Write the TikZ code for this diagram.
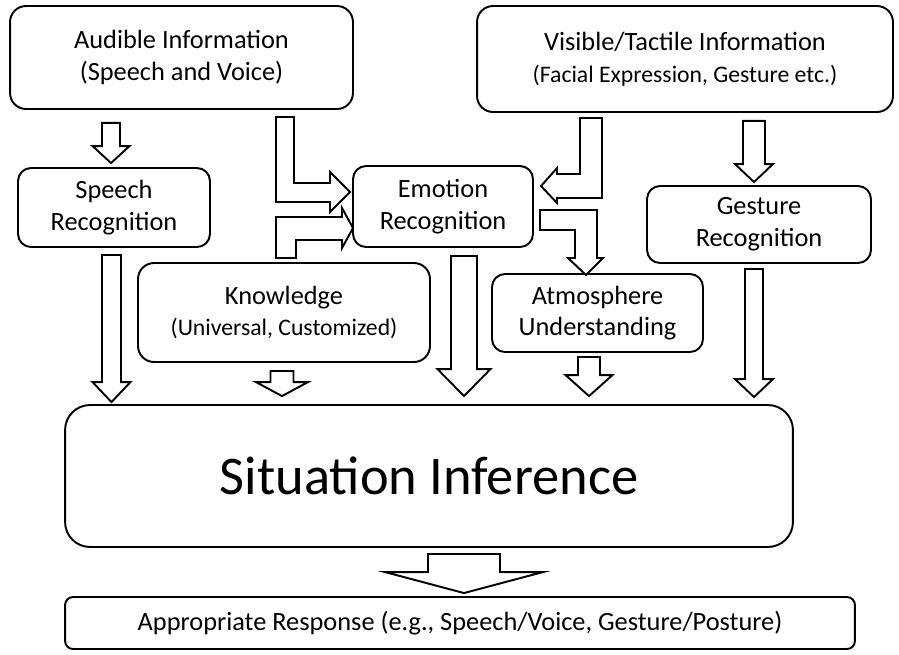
\documentclass[tikz,border=0pt]{standalone}
\usepackage{fontspec}
\setmainfont{Carlito}
\usetikzlibrary{calc}

% straight block arrow pointing down: from, to, x, shaft half, head half, head length, top gap, bottom gap
\newcommand{\blockdown}[8]{%
  \draw[blockarrow] let \p1=(#1.south -| #3,0), \p2=(#2.north -| #3,0) in
    (\x1-#4,\y1-#7) -- (\x1+#4,\y1-#7) -- (\x1+#4,\y2+#8+#6) -- (\x1+#5,\y2+#8+#6)
    -- (\x1,\y2+#8) -- (\x1-#5,\y2+#8+#6) -- (\x1-#4,\y2+#8+#6) -- cycle;
}

\begin{document}
\begin{tikzpicture}[x=0.02cm, y=-0.02cm,
  rbox/.style={draw, line width=1.1pt, rounded corners=0.26cm, align=center, inner sep=0pt, font=\fontsize{15}{18}\selectfont},
  blockarrow/.style={draw, line width=1.1pt, fill=white, line join=miter}
]
  \useasboundingbox (0,0) rectangle (899,654);

  % sources
  \node[rbox, minimum width=6.86cm, minimum height=2.06cm, rounded corners=0.32cm] (aud) at (181.5,57.5) {Audible Information\\(Speech and Voice)};
  \node[rbox, minimum width=8.32cm, minimum height=2.12cm, rounded corners=0.32cm] (vis) at (685,59) {Visible/Tactile Information\\{\fontsize{13.5}{16}\selectfont (Facial Expression, Gesture etc.)}};

  % recognition
  \node[rbox, minimum width=3.84cm, minimum height=1.58cm] (speech) at (114,207.5) {Speech\\Recognition};
  \node[rbox, minimum width=3.6cm, minimum height=1.62cm] (emo) at (443,206.5) {Emotion\\Recognition};
  \node[rbox, minimum width=4.48cm, minimum height=1.54cm] (gest) at (759,224.5) {Gesture\\Recognition};
  \node[rbox, minimum width=5.84cm, minimum height=1.98cm, rounded corners=0.32cm] (know) at (284,312.5) {Knowledge\\{\fontsize{13.5}{16}\selectfont (Universal, Customized)}};
  \node[rbox, minimum width=4.22cm, minimum height=1.56cm] (atm) at (597.5,313) {Atmosphere\\Understanding};

  % inference and output
  \node[rbox, minimum width=14.56cm, minimum height=2.84cm, rounded corners=0.5cm, font=\fontsize{31}{36}\selectfont] (sit) at (429,476) {Situation Inference};
  \node[rbox, minimum width=15.8cm, minimum height=1.04cm, rounded corners=0.16cm] (resp) at (460,623) {Appropriate Response (e.g., Speech/Voice, Gesture/Posture)};

  % straight arrows
  \blockdown{aud}{speech}{111}{0.18cm}{0.37cm}{0.34cm}{0.26cm}{0.08cm}
  \blockdown{speech}{sit}{111.5}{0.19cm}{0.38cm}{0.4cm}{0.14cm}{0.04cm}
  \blockdown{know}{sit}{282}{0.23cm}{0.52cm}{0.28cm}{0.16cm}{0.16cm}
  \blockdown{emo}{sit}{464}{0.26cm}{0.53cm}{0.54cm}{0.16cm}{0.16cm}
  \blockdown{atm}{sit}{589}{0.22cm}{0.47cm}{0.42cm}{0.08cm}{0.16cm}
  \blockdown{vis}{gest}{754}{0.22cm}{0.38cm}{0.36cm}{0.16cm}{0.06cm}
  \blockdown{gest}{sit}{754}{0.18cm}{0.38cm}{0.36cm}{0.1cm}{0.14cm}
  \blockdown{sit}{resp}{464}{0.72cm}{1.58cm}{0.42cm}{0.12cm}{0.06cm}

  % bent arrows into emotion and atmosphere
  \draw[blockarrow] (276,117) -- (294,117) -- (294,183) -- (330,183) -- (330,172) -- (350,192)
    -- (330,212) -- (330,202) -- (276,202) -- cycle;
  \draw[blockarrow] (276,258) -- (276,217) -- (342,217) -- (342,208) -- (353,228)
    -- (342,248) -- (342,240) -- (296,240) -- (296,258) -- cycle;
  \draw[blockarrow] (602,118) -- (602,198) -- (557,198) -- (557,203) -- (541,186)
    -- (557,168) -- (557,174) -- (580,174) -- (580,118) -- cycle;
  \draw[blockarrow] (540,210) -- (597,210) -- (597,258) -- (603,258) -- (586,275)
    -- (568,258) -- (575,258) -- (575,230) -- (540,230) -- cycle;
\end{tikzpicture}
\end{document}
